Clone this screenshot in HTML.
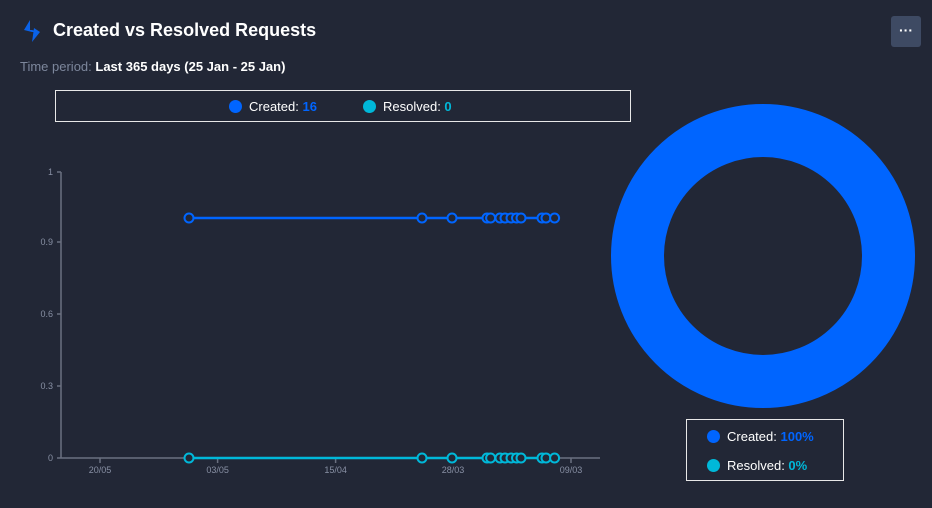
<!DOCTYPE html>
<html><head><style>
body{margin:0;width:932px;height:508px;background:#222736;font-family:"Liberation Sans",sans-serif;overflow:hidden;position:relative;color:#fff}
.t{position:absolute;left:53px;top:20px;font-size:18px;font-weight:bold}
.tp{position:absolute;left:20px;top:59px;font-size:13px;color:#7d879c}
.tp b{color:#fff}
.lg{position:absolute;left:55px;top:90px;width:576px;height:32px;border:1px solid #e8e8e8;box-sizing:border-box}
.btn{position:absolute;left:891px;top:16px;width:30px;height:31px;background:#3e4a63;border-radius:3px;color:#fff;text-align:center;font-size:14px;line-height:28px;font-weight:bold}
.dl{position:absolute;left:686px;top:419px;width:158px;height:62px;border:1px solid #e8e8e8;box-sizing:border-box;font-size:13px}
.dot{display:inline-block;width:13px;height:13px;border-radius:50%;vertical-align:-2px;margin-right:7px}
</style></head><body>
<svg style="position:absolute;left:22px;top:20px" width="20" height="22" viewBox="0 0 20 22"><path d="M8 0 L2 10 L8 10 Z" fill="#0a62e8"/><path d="M12 8 L18 12 L10 22 Z" fill="#0a62e8"/><path d="M2 10 L10 10 L18 12 L10 12Z" fill="#0a62e8"/></svg>
<div class="t">Created vs Resolved Requests</div>
<div class="tp">Time period: <b>Last 365 days (25 Jan - 25 Jan)</b></div>
<div class="btn">···</div>
<div class="lg"><div style="position:absolute;left:173px;top:8px;font-size:13px"><span class="dot" style="background:#0065ff"></span>Created: <b style="color:#0065ff">16</b></div><div style="position:absolute;left:307px;top:8px;font-size:13px"><span class="dot" style="background:#00b8d9"></span>Resolved: <b style="color:#00b8d9">0</b></div></div>
<svg style="position:absolute;left:0;top:0" width="932" height="508" font-family="Liberation Sans" font-size="9" fill="#8890a4">
<g stroke="#6b7080" stroke-width="1.5"><line x1="61" y1="172" x2="61" y2="458"/><line x1="61" y1="458" x2="600" y2="458"/>
<line x1="57" y1="172" x2="61" y2="172"/><line x1="57" y1="242" x2="61" y2="242"/><line x1="57" y1="314" x2="61" y2="314"/><line x1="57" y1="386" x2="61" y2="386"/><line x1="57" y1="458" x2="61" y2="458"/>
<line x1="100" y1="458" x2="100" y2="463"/><line x1="217.6" y1="458" x2="217.6" y2="463"/><line x1="335.6" y1="458" x2="335.6" y2="463"/><line x1="453" y1="458" x2="453" y2="463"/><line x1="571" y1="458" x2="571" y2="463"/></g>
<g text-anchor="end"><text x="53" y="175">1</text><text x="53" y="245">0.9</text><text x="53" y="317">0.6</text><text x="53" y="389">0.3</text><text x="53" y="461">0</text></g>
<g text-anchor="middle"><text x="100" y="473">20/05</text><text x="217.6" y="473">03/05</text><text x="335.6" y="473">15/04</text><text x="453" y="473">28/03</text><text x="571" y="473">09/03</text></g>
<line x1="189" y1="218" x2="554.6" y2="218" stroke="#0065ff" stroke-width="2.5"/>
<line x1="189" y1="458" x2="554.6" y2="458" stroke="#00b8d9" stroke-width="2.5"/>
<g fill="#222736" stroke-width="2">
<g stroke="#0065ff"><circle cx="189" cy="218" r="4.5"/><circle cx="422" cy="218" r="4.5"/><circle cx="452" cy="218" r="4.5"/><circle cx="487" cy="218" r="4.5"/><circle cx="490.6" cy="218" r="4.5"/><circle cx="500" cy="218" r="4.5"/><circle cx="505" cy="218" r="4.5"/><circle cx="511" cy="218" r="4.5"/><circle cx="516.5" cy="218" r="4.5"/><circle cx="521" cy="218" r="4.5"/><circle cx="542" cy="218" r="4.5"/><circle cx="546" cy="218" r="4.5"/><circle cx="554.6" cy="218" r="4.5"/></g>
<g stroke="#00b8d9"><circle cx="189" cy="458" r="4.5"/><circle cx="422" cy="458" r="4.5"/><circle cx="452" cy="458" r="4.5"/><circle cx="487" cy="458" r="4.5"/><circle cx="490.6" cy="458" r="4.5"/><circle cx="500" cy="458" r="4.5"/><circle cx="505" cy="458" r="4.5"/><circle cx="511" cy="458" r="4.5"/><circle cx="516.5" cy="458" r="4.5"/><circle cx="521" cy="458" r="4.5"/><circle cx="542" cy="458" r="4.5"/><circle cx="546" cy="458" r="4.5"/><circle cx="554.6" cy="458" r="4.5"/></g></g>
<circle cx="763" cy="256" r="125.5" fill="none" stroke="#0065ff" stroke-width="53"/>
</svg>
<div class="dl"><div style="position:absolute;left:20px;top:9px"><span class="dot" style="background:#0065ff"></span>Created: <b style="color:#0065ff">100%</b></div><div style="position:absolute;left:20px;top:38px"><span class="dot" style="background:#00b8d9"></span>Resolved: <b style="color:#00b8d9">0%</b></div></div>
</body></html>
